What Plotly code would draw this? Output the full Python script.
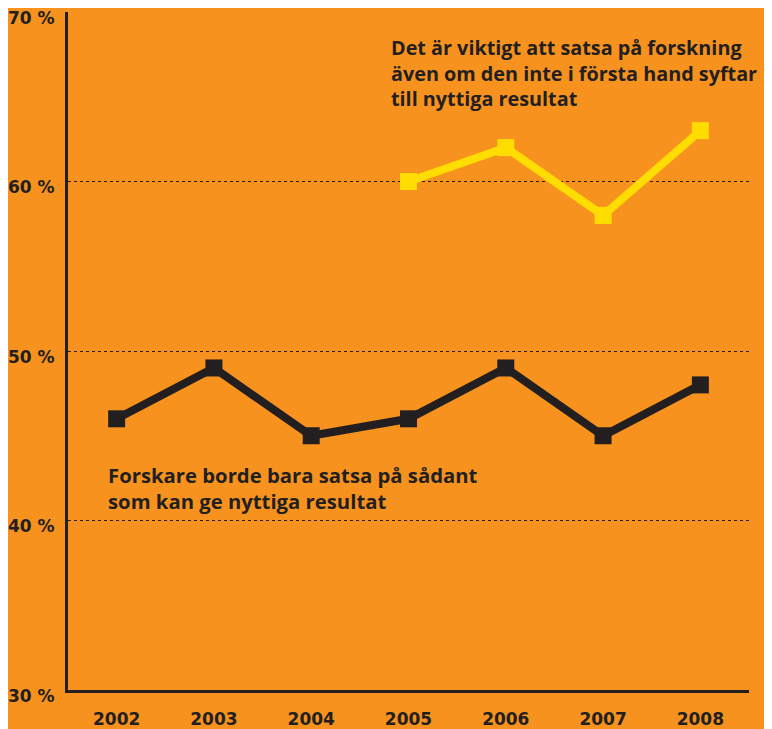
import plotly.graph_objects as go

years = [2002, 2003, 2004, 2005, 2006, 2007, 2008]
year_labels = ["2002", "2003", "2004", "2005", "2006", "2007", "2008"]
black_series = [46, 49, 45, 46, 49, 45, 48]
yellow_years = [2005, 2006, 2007, 2008]
yellow_series = [60, 62, 58, 63]
y_ticks = [30, 40, 50, 60, 70]
y_tick_labels = ["30 %", "40 %", "50 %", "60 %", "70 %"]

label_black = "Forskare borde bara satsa på sådant<br>som kan ge nyttiga resultat"
label_yellow = "Det är viktigt att satsa på forskning<br>även om den inte i första hand syftar<br>till nyttiga resultat"

BG = "#F7921E"
DARK = "#231F20"
YELLOW = "#FFDD00"

fig = go.Figure()
fig.add_trace(go.Scatter(
    x=years, y=black_series, mode="lines+markers",
    line=dict(color=DARK, width=8),
    marker=dict(symbol="square", size=17, color=DARK),
    showlegend=False, hoverinfo="skip"))
fig.add_trace(go.Scatter(
    x=yellow_years, y=yellow_series, mode="lines+markers",
    line=dict(color=YELLOW, width=8),
    marker=dict(symbol="square", size=17, color=YELLOW),
    showlegend=False, hoverinfo="skip"))

tick_font = dict(family="DejaVu Sans", size=17, weight=700, color=DARK)

annotations = [
    dict(text=label_yellow, xref="paper", yref="paper", x=0.472, y=0.970,
         xanchor="left", yanchor="top", align="left", showarrow=False,
         font=dict(family="Open Sans", size=19.8, weight=700, color=DARK)),
    dict(text=label_black, xref="paper", yref="paper", x=0.0558, y=0.3414,
         xanchor="left", yanchor="top", align="left", showarrow=False,
         font=dict(family="Open Sans", size=20.3, weight=700, color=DARK)),
]
for v, t in zip(y_ticks, y_tick_labels):
    annotations.append(dict(
        text=t, xref="paper", yref="y", x=0, y=v, xanchor="right",
        yanchor="middle", xshift=-11, yshift=-5.5, showarrow=False,
        font=tick_font))

fig.update_layout(
    width=772, height=729,
    paper_bgcolor=BG, plot_bgcolor=BG,
    margin=dict(l=60, r=31, t=4, b=47),
    font=dict(family="Open Sans", color=DARK),
    xaxis=dict(
        range=[2001.5, 2008.5], tickvals=years, ticktext=year_labels,
        showgrid=False, zeroline=False, automargin=False,
        showline=True, linecolor=DARK, linewidth=3,
        ticks="", ticklabelstandoff=12,
        tickfont=tick_font),
    yaxis=dict(
        range=[30, 70], tickvals=y_ticks, showticklabels=False,
        showgrid=True, gridcolor=DARK, gridwidth=1, griddash="3px,3px",
        zeroline=False, automargin=False,
        showline=True, linecolor=DARK, linewidth=3, ticks=""),
    annotations=annotations,
)

fig.write_html("out.html")
